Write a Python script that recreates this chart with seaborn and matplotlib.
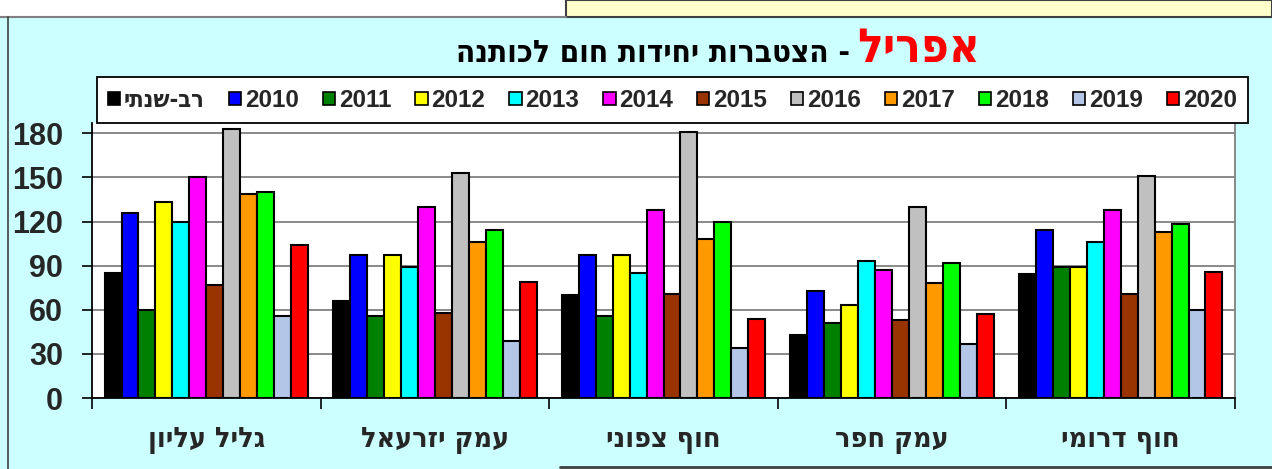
import pandas as pd
import numpy as np
import seaborn as sns
import matplotlib.pyplot as plt
from matplotlib.patches import Patch, Rectangle
from matplotlib.lines import Line2D

regions = ["גליל עליון", "עמק יזרעאל", "חוף צפוני", "עמק חפר", "חוף דרומי"]
series = ["רב-שנתי", "2010", "2011", "2012", "2013", "2014",
          "2015", "2016", "2017", "2018", "2019", "2020"]
colors = ["#000000", "#0000FF", "#008000", "#FFFF00", "#00FFFF", "#FF00FF",
          "#993300", "#C0C0C0", "#FF9900", "#00FF00", "#B4C6E7", "#FF0000"]

galil_elyon = [85, 126, 60, 133, 120, 150, 77, 183, 139, 140, 56, 104]
emek_yizreel = [66, 97, 56, 97, 89, 130, 58, 153, 106, 114, 39, 79]
hof_tsafoni = [70, 97, 56, 97, 85, 128, 71, 181, 108, 120, 34, 54]
emek_hefer = [43, 73, 51, 63, 93, 87, 53, 130, 78, 92, 37, 57]
hof_dromi = [84, 114, 89, 89, 106, 128, 71, 151, 113, 118, 60, 86]

yticks = [0, 30, 60, 90, 120, 150, 180]

HEB = dict(family="DejaVu Sans", stretch="condensed", weight="bold")


def heb(s):
    # matplotlib has no bidi, flip hebrew to visual order
    return s[::-1]


rows = []
for reg, vals in zip(regions, [galil_elyon, emek_yizreel, hof_tsafoni, emek_hefer, hof_dromi]):
    for s, v in zip(series, vals):
        rows.append({"region": heb(reg), "series": s, "value": v})
df = pd.DataFrame(rows)

sns.set_style("white")
plt.rcParams['font.family'] = ['Liberation Sans', 'DejaVu Sans']
plt.rcParams['font.weight'] = 'bold'

W, H = 1272, 469
fig = plt.figure(figsize=(W / 100, H / 100), dpi=100, facecolor="#CCFFFF")

# page decorations around the chart
fig.patches.append(Rectangle((0, 1 - 17 / H), 566 / W, 17 / H, transform=fig.transFigure,
                             facecolor="white", edgecolor="none", zorder=0))
fig.patches.append(Rectangle((566 / W, 1 - 17 / H), 1 - 566 / W, 17 / H, transform=fig.transFigure,
                             facecolor="#FFFFCC", edgecolor="#404040", lw=1.5, zorder=0))
fig.add_artist(Line2D([0, 566 / W], [1 - 17 / H, 1 - 17 / H], transform=fig.transFigure, color="#808080", lw=1.5))
fig.add_artist(Line2D([8 / W, 8 / W], [0, 1 - 17 / H], transform=fig.transFigure, color="#404040", lw=1.2))
fig.add_artist(Line2D([560 / W, 1], [2 / H, 2 / H], transform=fig.transFigure, color="#404040", lw=2))

ax = fig.add_axes([92 / W, (H - 398) / H, (1235 - 92) / W, (398 - 123) / H])
ax.set_facecolor("white")

sns.barplot(data=df, x="region", y="value", hue="series", hue_order=series,
            order=[heb(r) for r in regions], palette=colors, width=0.89, gap=0,
            edgecolor="black", linewidth=1.5, saturation=1, ax=ax, legend=False)

ax.set_ylim(0, 187)
ax.set_xlim(-0.5, 4.5)
ax.set_yticks(yticks)
ax.set_yticklabels([str(t) for t in yticks], fontsize=22, fontweight="bold")
ax.tick_params(axis="y", left=True, length=7, width=1.2, color="black", pad=14)
ax.tick_params(axis="x", which="major", length=0, pad=20)
ax.set_xticks(np.arange(-0.5, 5, 1), minor=True)
ax.tick_params(axis="x", which="minor", bottom=True, length=8, width=1.2, color="black")
for lab in ax.get_xticklabels():
    lab.set_fontproperties(dict(HEB, size=20.5))
ax.set_xlabel("")
ax.set_ylabel("")
ax.yaxis.grid(True, color="#808080", lw=1.3)
ax.set_axisbelow(True)
for side in ["left", "bottom"]:
    ax.spines[side].set_color("black")
    ax.spines[side].set_linewidth(1.3)
ax.spines["right"].set_color("#808080")
ax.spines["right"].set_linewidth(1.3)
ax.spines["top"].set_visible(False)

handles = [Patch(facecolor=c, edgecolor="black", lw=1.2) for c in colors]
labels = [heb(series[0])] + series[1:]
leg = fig.legend(handles, labels, loc="lower left", ncol=12, mode="expand",
                 bbox_to_anchor=(97 / W, (H - 123) / H, (1248 - 97) / W, 50 / H),
                 prop={"size": 17.5, "weight": "bold"}, handlelength=0.5, handleheight=0.5,
                 handletextpad=0.15, columnspacing=0.4, borderaxespad=0, borderpad=0.45,
                 fancybox=False, framealpha=1, edgecolor="black")
leg.get_frame().set_linewidth(1.3)
leg.get_texts()[0].set_fontproperties(dict(HEB, size=17))

fig.text(850 / W, (H - 53) / H, heb("- הצטברות יחידות חום לכותנה"), ha="right", va="center",
         color="black", fontproperties=dict(HEB, size=22.5))
fig.text(857 / W, (H - 49) / H, heb("אפריל"), ha="left", va="center",
         color="#FF0000", fontproperties=dict(HEB, size=34))

fig.savefig("out.png", dpi=100, facecolor=fig.get_facecolor())
